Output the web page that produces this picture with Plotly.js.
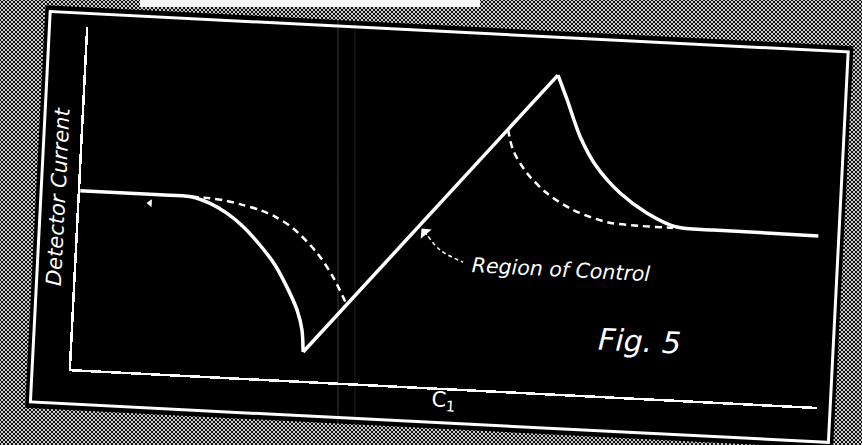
<!DOCTYPE html>
<html>
<head>
<meta charset="utf-8">
<script src="https://cdn.plot.ly/plotly-3.0.1.min.js"></script>
<style>
  html, body { margin:0; padding:0; width:862px; height:445px; overflow:hidden; }
  body {
    background-color:#dcdcdc;
    background-image:
      linear-gradient(#f4f4f4, #f4f4f4),
      radial-gradient(circle, #111 1.2px, transparent 1.6px),
      radial-gradient(circle, #111 1.2px, transparent 1.6px);
    background-size:340px 7px, 4px 4px, 4px 4px;
    background-position:140px 0, 0 0, 2px 2px;
    background-repeat:no-repeat, repeat, repeat;
  }
  #chart { width:862px; height:445px; transform:rotate(2.9deg); transform-origin:431px 222.5px; }
</style>
</head>
<body>
<div id="chart"></div>
<script>
// ---- data (arbitrary units) ----
const descentX = [0, 1.07, 1.47, 1.745, 1.975, 2.205, 2.44, 2.655, 2.83, 2.98, 3.06, 3.09];
const descentY = [5.22, 5.22, 5.21, 5.04, 4.78, 4.41, 3.90, 3.34, 2.71, 2.06, 1.48, 0.84];

const controlX = [3.09, 6.31];
const controlY = [0.84, 9.30];

const decayX = [6.31, 6.45, 6.65, 6.89, 7.22, 7.59, 8.00, 8.49, 9.90];
const decayY = [9.30, 8.59, 7.53, 6.68, 5.95, 5.41, 5.04, 5.01, 4.99];

const dashLeftX = [1.49, 1.742, 1.966, 2.19, 2.418, 2.622, 2.87, 3.21, 3.44, 3.644];
const dashLeftY = [5.21, 5.19, 5.14, 5.04, 4.92, 4.75, 4.44, 3.75, 3.07, 2.27];

const dashRightX = [5.68, 5.76, 5.96, 6.24, 6.60, 7.07, 7.51, 7.95];
const dashRightY = [7.64, 7.05, 6.40, 5.84, 5.39, 5.08, 5.02, 5.01];

const leaderX = [4.684, 4.851, 5.167];
const leaderY = [4.40, 4.02, 3.70];

const markX = [0.942];
const markY = [4.96];

const yTitle = 'Detector Current';
const xTitle = 'C<sub>1</sub>';
const noteText = 'Region of Control';
const figText = 'Fig. 5';

// ---- drawing ----
const W = 'white';
const FONT = 'DejaVu Sans';
const solid = {color: W, width: 3.5};
const dashed = {color: W, width: 2.5, dash: '7px,5px'};

const traces = [
  {x: descentX, y: descentY, mode: 'lines', line: Object.assign({shape: 'spline', smoothing: 0.8}, solid)},
  {x: controlX, y: controlY, mode: 'lines', line: solid},
  {x: decayX, y: decayY, mode: 'lines', line: Object.assign({shape: 'spline', smoothing: 0.8}, solid)},
  {x: dashLeftX, y: dashLeftY, mode: 'lines', line: Object.assign({shape: 'spline', smoothing: 0.9}, dashed)},
  {x: dashRightX, y: dashRightY, mode: 'lines', line: Object.assign({shape: 'spline', smoothing: 0.9}, dashed)},
  {x: leaderX, y: leaderY, mode: 'lines', line: {color: W, width: 1.5, dash: '4px,3px', shape: 'spline'}},
  {x: markX, y: markY, mode: 'markers', marker: {symbol: 'triangle-left', size: 7, color: W}}
];

const card = '#000000';
const layout = {
  width: 862, height: 445,
  margin: {l: 79, r: 36, t: 45, b: 58},
  paper_bgcolor: 'rgba(0,0,0,0)',
  plot_bgcolor: 'rgba(0,0,0,0)',
  showlegend: false,
  hovermode: false,
  xaxis: {
    range: [0, 10], showgrid: false, zeroline: false, showticklabels: false, ticks: '',
    showline: true, linecolor: W, linewidth: 2.5,
    title: {text: xTitle, font: {family: FONT, size: 21, color: W}, standoff: 3}
  },
  yaxis: {
    range: [0, 10], showgrid: false, zeroline: false, showticklabels: false, ticks: '',
    showline: true, linecolor: W, linewidth: 2.5,
    title: {text: '<i>' + yTitle + '</i>', font: {family: FONT, size: 21, color: W}, standoff: 6}
  },
  shapes: [
    {type: 'rect', xref: 'paper', yref: 'paper', x0: -0.0589, x1: 1.0241, y0: -0.1199, y1: 1.0585,
     fillcolor: card, line: {width: 0}, layer: 'below'},
    {type: 'line', xref: 'paper', yref: 'paper', x0: 0.3331, y0: 1.0585, x1: 0.3605, y1: -0.1199,
     line: {color: 'rgba(255,255,255,0.16)', width: 1.5}, layer: 'below'},
    {type: 'line', xref: 'paper', yref: 'paper', x0: 0.3559, y0: 1.0585, x1: 0.3832, y1: -0.1199,
     line: {color: 'rgba(255,255,255,0.12)', width: 1}, layer: 'below'},
    {type: 'rect', xref: 'paper', yref: 'paper', x0: -0.0522, x1: 1.0174, y0: -0.1023, y1: 1.0409,
     line: {color: W, width: 3}, fillcolor: 'rgba(0,0,0,0)', layer: 'above'}
  ],
  annotations: [
    {x: 5.265, y: 3.64, xref: 'x', yref: 'y', xanchor: 'left', yanchor: 'middle', showarrow: false,
     text: '<i>' + noteText + '</i>', font: {family: FONT, size: 20.5, color: W}},
    {x: 7.588, y: 1.64, xref: 'x', yref: 'y', xanchor: 'center', yanchor: 'middle', showarrow: false,
     text: '<i>' + figText + '</i>', font: {family: FONT, size: 30, color: W}},
    {x: 4.59, y: 4.62, xref: 'x', yref: 'y', text: '', showarrow: true, ax: 7, ay: 7.5,
     arrowhead: 1, arrowsize: 1.6, arrowwidth: 1.5, arrowcolor: W}
  ]
};

Plotly.newPlot('chart', traces, layout, {staticPlot: true, displayModeBar: false});
</script>
</body>
</html>
